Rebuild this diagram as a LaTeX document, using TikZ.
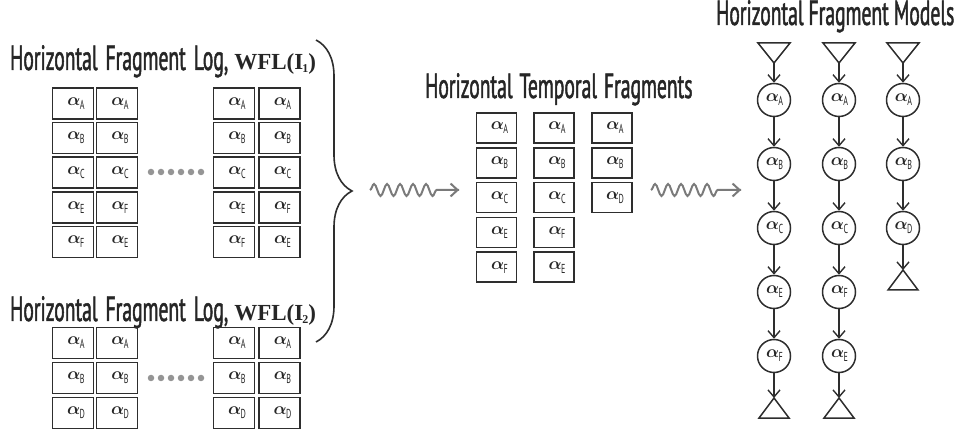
\documentclass[tikz,border=0pt]{standalone}
\usepackage{fontspec}
\usepackage{amsmath}
\setmainfont[FakeStretch=0.62]{PT Sans}
\newfontfamily\ttlfont[FakeStretch=0.56,FakeBold=1.3]{PT Sans}
\newfontfamily\wflfont{Liberation Serif}
\usetikzlibrary{decorations.pathmorphing,decorations.pathreplacing,arrows.meta}
\definecolor{linec}{HTML}{2E2E2E}
\definecolor{textc}{HTML}{262626}
\definecolor{squigc}{HTML}{7A7A7A}
\newcommand{\al}[1]{\hspace{6pt}$\boldsymbol{\alpha}$\kern-0.5pt\raisebox{-4pt}{\fontsize{13}{13}\selectfont #1}}
\newcommand{\wfl}[1]{{\wflfont\bfseries\fontsize{23}{23}\selectfont WFL(I\kern-1pt\raisebox{-3pt}{\fontsize{12}{12}\selectfont #1})}}
\tikzset{
  fbox/.style={draw=linec, line width=1.5pt, minimum width=41pt, minimum height=31pt,
    inner sep=0pt, font=\fontsize{19}{19}\selectfont, text=textc},
  mbox/.style={fbox, minimum width=40pt, minimum height=30pt},
  ttl/.style={anchor=base west, inner sep=0pt, font=\ttlfont\fontsize{35}{35}\selectfont, text=textc},
  st/.style={draw=linec, line width=1.5pt, circle, minimum size=33pt, inner sep=0pt,
    font=\fontsize{17}{17}\selectfont, text=textc},
  tri/.style={draw=linec, line width=1.5pt},
  arr/.style={draw=linec, line width=1.4pt, -{Straight Barb[length=7pt,width=12pt,line width=1.4pt]}},
  squig/.style={draw=squigc, line width=2pt,
    decorate, decoration={snake, segment length=13pt, amplitude=6pt, post length=22pt}},
  squighead/.style={draw=squigc, line width=2pt, -{Straight Barb[length=7pt,width=13pt,line width=2pt]}},
  dotn/.style={circle, fill=squigc!80, minimum size=6.5pt, inner sep=0pt},
  bracest/.style={draw=linec, line width=1.6pt, decorate, decoration={brace, amplitude=36pt}}
}
\begin{document}
\begin{tikzpicture}[x=1pt,y=-1pt]
\useasboundingbox (0,0) rectangle (959,430);

% ---------- titles ----------
\node[ttl] (t1) at (10,70) {Horizontal\hspace{8pt}Fragment\hspace{8pt}Log,\hspace{6pt}\wfl{1}};
\node[ttl] (t2) at (10,321) {Horizontal\hspace{8pt}Fragment\hspace{8pt}Log,\hspace{6pt}\wfl{2}};
\node[ttl] (t3) at (425,98) {Horizontal\hspace{7pt}Temporal\hspace{7pt}Fragments};
\node[ttl] (t4) at (716,25) {Horizontal\hspace{5pt}Fragment\hspace{5pt}Models};

% ---------- upper left log ----------
\foreach \c/\x/\labs in {1/73/{A,B,C,E,F},2/117/{A,B,C,F,E},3/234/{A,B,C,E,F},4/279.5/{A,B,C,F,E}}{
  \foreach \l [count=\r] in \labs {
    \node[fbox] (u\c\r) at (\x,{103.5+34.6*(\r-1)}) {\al{\l}};
  }
}
% ---------- lower left log ----------
\foreach \c/\x in {1/73,2/117,3/234,4/279.5}{
  \foreach \l [count=\r] in {A,B,D} {
    \node[fbox] (w\c\r) at (\x,{343+35*(\r-1)}) {\al{\l}};
  }
}
% dots
\foreach \i in {0,...,5}{
  \node[dotn] (da\i) at ({151+10*\i},172) {};
  \node[dotn] (db\i) at ({151+10*\i},378) {};
}

% ---------- brace ----------
\coordinate (bt) at (316,40);
\coordinate (bb) at (316,342);
\path[bracest] (bt) -- (bb);

% ---------- squiggle 1 ----------
\coordinate (s1a) at (370,190);
\coordinate (s1b) at (459,190);
\coordinate (s1c) at (436,190);
\path[squig] (s1a) -- (s1b);
\draw[squighead] (s1c) -- (s1b);

% ---------- middle fragments ----------
\foreach \c/\x/\labs in {1/496.5/{A,B,C,E,F},2/554/{A,B,C,F,E},3/612/{A,B,D}}{
  \foreach \l [count=\r] in \labs {
    \node[mbox] (m\c\r) at (\x,{128+34.8*(\r-1)}) {\al{\l}};
  }
}

% ---------- squiggle 2 ----------
\coordinate (s2a) at (651,190);
\coordinate (s2b) at (741,190);
\coordinate (s2c) at (718,190);
\path[squig] (s2a) -- (s2b);
\draw[squighead] (s2c) -- (s2b);

% ---------- models ----------
\foreach \c/\x/\labs/\n in {1/774/{A,B,C,E,F}/5,2/839/{A,B,C,F,E}/5,3/903/{A,B,D}/3}{
  \draw[tri] (\x-16,43) -- (\x+16,43) -- (\x,63) -- cycle;
  \coordinate (top\c) at (\x,63);
  \foreach \l [count=\r] in \labs {
    \node[st] (n\c\r) at (\x,{100+64*(\r-1)}) {\hspace{-5pt}\al{\l}};
  }
  \pgfmathsetmacro{\yb}{100+64*(\n-1)+42}
  \coordinate (bot\c) at (\x,\yb);
  \draw[tri] (\x,\yb) -- (\x+15,\yb+20) -- (\x-15,\yb+20) -- cycle;
}
\foreach \c/\n in {1/5,2/5,3/3}{
  \draw[arr] (top\c) -- (n\c1);
  \foreach \r [evaluate=\r as \s using int(\r+1)] in {1,...,4}{
    \ifnum\r<\n \draw[arr] (n\c\r) -- (n\c\s);\fi
  }
  \draw[arr] (n\c\n) -- (bot\c);
}
\end{tikzpicture}
\end{document}
